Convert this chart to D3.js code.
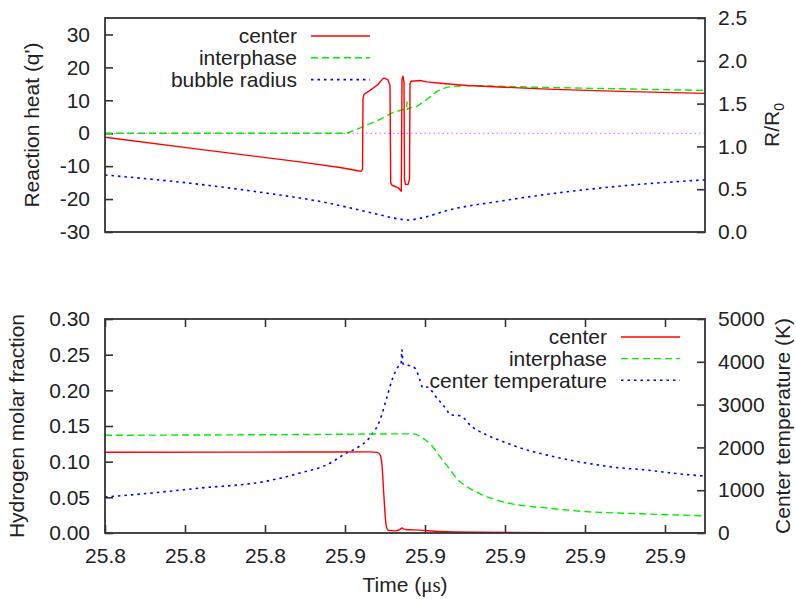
<!DOCTYPE html>
<html>
<head>
<meta charset="utf-8">
<script src="https://cdn.jsdelivr.net/npm/d3@7"></script>
<style>
  html, body { margin: 0; padding: 0; background: #fff; }
  svg { display: block; }
  text { font-family: "Liberation Sans", Arial, Helvetica, sans-serif; fill: #222; }
</style>
</head>
<body>
<svg id="chart" width="796" height="599"></svg>
<script>
// ---------------- DATA ----------------
// Time axis (µs)
const xTicks = [25.80, 25.82, 25.84, 25.86, 25.88, 25.90, 25.92, 25.94];

// Top panel: reaction heat q' (left axis)
const heatCenterT = [25.8, 25.82375, 25.84875, 25.85875, 25.86325, 25.864, 25.864375, 25.8645, 25.86475, 25.86625, 25.86825, 25.86925, 25.86975, 25.87075, 25.87125, 25.871425, 25.87175, 25.87325, 25.874075, 25.87425, 25.8745, 25.87475, 25.874875, 25.875125, 25.87575, 25.876125, 25.87625, 25.8765, 25.87875, 25.8805, 25.88375, 25.8905, 25.9105, 25.92875, 25.95];
const heatCenterV = [-1.2, -4.9, -8.7, -10.4, -11.4, -11.6, -11.0, 10.5, 11.8, 13.0, 14.8, 16.3, 16.8, 16.2, 14.5, -15.0, -15.8, -16.5, -17.6, 16.5, 17.3, 15.5, -14.0, -15.5, -15.6, -14.0, 15.0, 15.8, 16.0, 15.6, 15.2, 14.5, 13.4, 12.7, 12.1];

const heatInterT = [25.8, 25.8605, 25.8645, 25.86875, 25.872, 25.875, 25.875375, 25.8755, 25.875625, 25.876, 25.878, 25.8805, 25.883, 25.8855, 25.8905, 25.9105, 25.95];
const heatInterV = [0, 0, 2.0, 4.2, 6.3, 7.3, 7.5, 9.5, 7.2, 7.6, 8.2, 10.3, 12.7, 14.0, 14.5, 13.9, 13.0];

// Top panel: bubble radius R/R0 (right axis)
const radiusT = [25.8, 25.82125, 25.838, 25.8545, 25.867, 25.87375, 25.87575, 25.87875, 25.88625, 25.89875, 25.9155, 25.932, 25.95];
const radiusV = [0.666, 0.57, 0.47, 0.35, 0.22, 0.15, 0.14, 0.16, 0.26, 0.36, 0.47, 0.55, 0.61];

// Top panel: zero reference line
const zeroT = [25.8, 25.95];
const zeroV = [0, 0];

// Bottom panel: hydrogen molar fraction (left axis)
const h2CenterT = [25.8, 25.84875, 25.86625, 25.868, 25.86875, 25.86925, 25.86975, 25.87025, 25.87075, 25.8725, 25.87375, 25.87425, 25.875, 25.87875, 25.88375, 25.89375, 25.91125, 25.95];
const h2CenterV = [0.1132, 0.1135, 0.1137, 0.113, 0.110, 0.095, 0.050, 0.012, 0.004, 0.003, 0.005, 0.007, 0.005, 0.004, 0.002, 0.001, 0.0005, 0.0];

const h2InterT = [25.8, 25.84875, 25.877, 25.87825, 25.88, 25.88175, 25.88375, 25.88625, 25.888, 25.89075, 25.89375, 25.9, 25.9105, 25.92025, 25.93375, 25.95];
const h2InterV = [0.137, 0.138, 0.139, 0.137, 0.131, 0.122, 0.107, 0.089, 0.076, 0.064, 0.055, 0.043, 0.035, 0.030, 0.027, 0.024];

// Bottom panel: center temperature K (right axis)
const tempT = [25.8, 25.81125, 25.82375, 25.83975, 25.84875, 25.85625, 25.86, 25.863, 25.86625, 25.86875, 25.8705, 25.872, 25.87325, 25.874, 25.87425, 25.8745, 25.87575, 25.8775, 25.87875, 25.8795, 25.8805, 25.883, 25.8855, 25.88625, 25.88875, 25.89175, 25.8955, 25.9005, 25.90375, 25.9105, 25.91875, 25.927, 25.9355, 25.94375, 25.95];
const tempV = [840, 930, 1050, 1200, 1400, 1630, 1850, 1990, 2240, 2640, 3180, 3640, 3880, 3950, 4280, 3950, 3920, 3850, 3570, 3390, 3410, 3150, 2870, 2760, 2740, 2480, 2290, 2100, 1990, 1820, 1660, 1540, 1470, 1380, 1330];

// Axis ticks
const heatTicks = [-30, -20, -10, 0, 10, 20, 30];
const radiusTicks = [0.0, 0.5, 1.0, 1.5, 2.0, 2.5];
const h2Ticks = [0.00, 0.05, 0.10, 0.15, 0.20, 0.25, 0.30];
const tempTicks = [0, 1000, 2000, 3000, 4000, 5000];

// Legends
const topLegend = ["center", "interphase", "bubble radius"];
const bottomLegend = ["center", "interphase", "center temperature"];

// ---------------- DRAW ----------------
const svg = d3.select("#chart");
const L = 105, R = 705;
const top1 = 18, bot1 = 232;
const top2 = 319, bot2 = 533;
const FS = 21;
const frameColor = "#333";

const zip = (t, v) => t.map((d, i) => [d, v[i]]);

const x = d3.scaleLinear().domain([25.80, 25.95]).range([L, R]);
const yHeat = d3.scaleLinear().domain([-30, 35]).range([bot1, top1]);
const yRad = d3.scaleLinear().domain([0, 2.5]).range([bot1, top1]);
const yH2 = d3.scaleLinear().domain([0, 0.30]).range([bot2, top2]);
const yTemp = d3.scaleLinear().domain([0, 5000]).range([bot2, top2]);

const styles = {
  red: { color: "#ff0000", dash: null, w: 1.4 },
  green: { color: "#00ee00", dash: "7,4", w: 1.4 },
  blue: { color: "#0000ff", dash: "2.5,4", w: 1.6 },
  magenta: { color: "#ff44ff", dash: "1.5,3", w: 1.2 }
};

function drawLine(g, data, xs, ys, st, curve) {
  const line = d3.line().x(d => xs(d[0])).y(d => ys(d[1])).curve(curve || d3.curveLinear);
  g.append("path").datum(data)
    .attr("d", line)
    .attr("fill", "none")
    .attr("stroke", st.color)
    .attr("stroke-width", st.w)
    .attr("stroke-linejoin", "round")
    .attr("stroke-dasharray", st.dash);
}

const hyphenFmt = f => d => f(d).replace("\u2212", "-");

function styleAxis(g) {
  g.select(".domain").remove();
  g.selectAll(".tick line").attr("stroke", frameColor).attr("stroke-width", 1.6);
  g.selectAll(".tick text").attr("font-size", FS).attr("fill", "#222")
    .attr("font-family", "Liberation Sans, Arial, sans-serif");
}

// ---- Top panel ----
const gTop = svg.append("g");
gTop.append("g").attr("transform", `translate(${L},0)`)
  .call(d3.axisLeft(yHeat).tickValues(heatTicks).tickSize(-8).tickPadding(15).tickFormat(hyphenFmt(d3.format("d"))))
  .call(styleAxis);
gTop.append("g").attr("transform", `translate(${R},0)`)
  .call(d3.axisRight(yRad).tickValues(radiusTicks).tickSize(-8).tickPadding(13).tickFormat(d3.format(".1f")))
  .call(styleAxis);

svg.append("clipPath").attr("id", "clipTop").append("rect")
  .attr("x", L).attr("y", top1).attr("width", R - L).attr("height", bot1 - top1);
const plotTop = gTop.append("g").attr("clip-path", "url(#clipTop)");
drawLine(plotTop, zip(zeroT, zeroV), x, yHeat, styles.magenta);
drawLine(plotTop, zip(radiusT, radiusV), x, yRad, styles.blue, d3.curveMonotoneX);
drawLine(plotTop, zip(heatInterT, heatInterV), x, yHeat, styles.green);
drawLine(plotTop, zip(heatCenterT, heatCenterV), x, yHeat, styles.red);

gTop.append("rect").attr("x", L).attr("y", top1).attr("width", R - L).attr("height", bot1 - top1)
  .attr("fill", "none").attr("stroke", frameColor).attr("stroke-width", 1.8);

// top legend
const topLegStyles = [styles.red, styles.green, styles.blue];
topLegend.forEach((name, i) => {
  const yy = 36 + i * 21.8;
  gTop.append("text").attr("x", 297).attr("y", yy).attr("dy", "0.35em")
    .attr("text-anchor", "end").attr("font-size", FS).text(name);
  gTop.append("line").attr("x1", 311).attr("x2", 370).attr("y1", yy).attr("y2", yy)
    .attr("stroke", topLegStyles[i].color).attr("stroke-width", topLegStyles[i].w)
    .attr("stroke-dasharray", topLegStyles[i].dash);
});

// top axis titles
svg.append("text").attr("transform", `translate(32,${(top1 + bot1) / 2}) rotate(-90)`)
  .attr("text-anchor", "middle").attr("dy", "0.35em").attr("font-size", FS).text("Reaction heat (q')");
const rr = svg.append("text").attr("transform", `translate(772,${(top1 + bot1) / 2}) rotate(-90)`)
  .attr("text-anchor", "middle").attr("dy", "0.35em").attr("font-size", FS);
rr.append("tspan").text("R/R");
rr.append("tspan").attr("font-size", 14).attr("dy", "0.3em").text("0");

// ---- Bottom panel ----
const gBot = svg.append("g");
gBot.append("g").attr("transform", `translate(${L},0)`)
  .call(d3.axisLeft(yH2).tickValues(h2Ticks).tickSize(-8).tickPadding(15).tickFormat(d3.format(".2f")))
  .call(styleAxis);
gBot.append("g").attr("transform", `translate(${R},0)`)
  .call(d3.axisRight(yTemp).tickValues(tempTicks).tickSize(-8).tickPadding(13).tickFormat(d3.format("d")))
  .call(styleAxis);
gBot.append("g").attr("transform", `translate(0,${bot2})`)
  .call(d3.axisBottom(x).tickValues(xTicks).tickSize(-8).tickPadding(15).tickFormat(d3.format(".1f")))
  .call(styleAxis);
gBot.append("g").attr("transform", `translate(0,${top2})`)
  .call(d3.axisTop(x).tickValues(xTicks).tickSize(-8).tickFormat(""))
  .call(styleAxis);

svg.append("clipPath").attr("id", "clipBot").append("rect")
  .attr("x", L).attr("y", top2).attr("width", R - L).attr("height", bot2 - top2);
const plotBot = gBot.append("g").attr("clip-path", "url(#clipBot)");
drawLine(plotBot, zip(tempT, tempV), x, yTemp, styles.blue, d3.curveMonotoneX);
drawLine(plotBot, zip(h2InterT, h2InterV), x, yH2, styles.green, d3.curveMonotoneX);
drawLine(plotBot, zip(h2CenterT, h2CenterV), x, yH2, styles.red, d3.curveMonotoneX);

gBot.append("rect").attr("x", L).attr("y", top2).attr("width", R - L).attr("height", bot2 - top2)
  .attr("fill", "none").attr("stroke", frameColor).attr("stroke-width", 1.8);

// bottom legend
const botLegStyles = [styles.red, styles.green, styles.blue];
bottomLegend.forEach((name, i) => {
  const yy = 337 + i * 21.6;
  gBot.append("text").attr("x", 607).attr("y", yy).attr("dy", "0.35em")
    .attr("text-anchor", "end").attr("font-size", FS).text(name);
  gBot.append("line").attr("x1", 621).attr("x2", 680).attr("y1", yy).attr("y2", yy)
    .attr("stroke", botLegStyles[i].color).attr("stroke-width", botLegStyles[i].w)
    .attr("stroke-dasharray", botLegStyles[i].dash);
});

// bottom axis titles
svg.append("text").attr("transform", `translate(783,${(top2 + bot2) / 2}) rotate(-90)`)
  .attr("text-anchor", "middle").attr("dy", "0.35em").attr("font-size", FS).text("Center temperature (K)");
svg.append("text").attr("transform", `translate(17,${(top2 + bot2) / 2}) rotate(-90)`)
  .attr("text-anchor", "middle").attr("dy", "0.35em").attr("font-size", FS).text("Hydrogen molar fraction");
const tt = svg.append("text").attr("x", (L + R) / 2).attr("y", 592)
  .attr("text-anchor", "middle").attr("font-size", FS);
tt.append("tspan").text("Time (");
tt.append("tspan").attr("font-family", "Liberation Serif, Times New Roman, serif").text("μs");
tt.append("tspan").text(")");
</script>
</body>
</html>
